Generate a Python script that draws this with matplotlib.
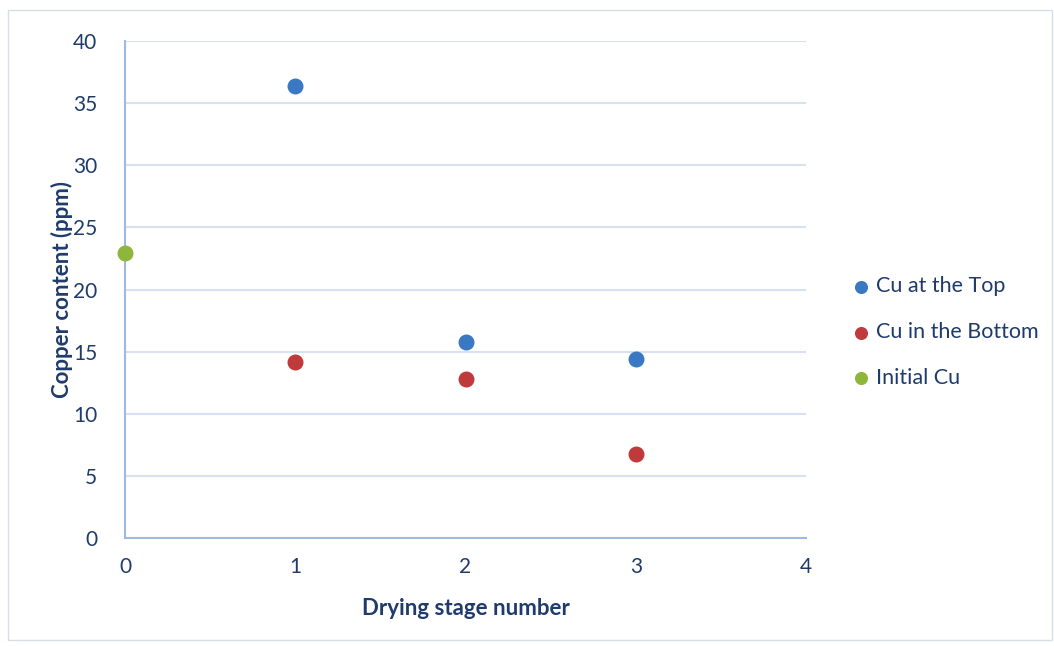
import matplotlib.pyplot as plt
from matplotlib.patches import Rectangle

stage_top = [1, 2, 3]
cu_top = [36.4, 15.8, 14.4]
stage_bottom = [1, 2, 3]
cu_bottom = [14.2, 12.8, 6.8]
stage_init = [0]
cu_init = [22.9]

txt = '#1F3B6B'
plt.rcParams['font.family'] = ['Lato', 'DejaVu Sans']

fig = plt.figure(figsize=(10.54, 6.46), dpi=100)
fig.patches.append(Rectangle((8/1054, 6/646), 1044/1054, 630/646, transform=fig.transFigure,
                             fill=False, edgecolor='#D9DEE6', lw=1))
ax = fig.add_axes([125/1054, 1-538/646, 681/1054, 497/646])

ax.scatter(stage_top, cu_top, s=110, color='#3A78C3', label='Cu at the Top', zorder=3)
ax.scatter(stage_bottom, cu_bottom, s=110, color='#C0393B', label='Cu in the Bottom', zorder=3)
ax.scatter(stage_init, cu_init, s=110, color='#8DB63A', label='Initial Cu', zorder=3, clip_on=False)

ax.set_xlim(0, 4)
ax.set_ylim(0, 40)
ax.set_xticks(range(0, 5))
ax.set_yticks(range(0, 41, 5))
ax.grid(axis='y', color='#D6E2F2', lw=1.5)
ax.set_axisbelow(True)
for s in ['top', 'right']:
    ax.spines[s].set_visible(False)
ax.spines['left'].set_color('#9DBAE2')
ax.spines['bottom'].set_color('#9DBAE2')
ax.spines['left'].set_linewidth(1.5)
ax.spines['bottom'].set_linewidth(1.5)
ax.tick_params(length=0, labelsize=15, colors=txt, pad=14)
ax.tick_params(axis='y', pad=20)

ax.set_xlabel('Drying stage number', fontsize=16, fontweight='bold', color=txt, labelpad=15)
ax.set_ylabel('Copper content (ppm)', fontsize=16, fontweight='bold', color=txt, labelpad=0)

leg = ax.legend(loc='center left', bbox_to_anchor=(1.055, 0.414), frameon=False, fontsize=15.5,
                handlelength=0.8, handletextpad=0.3, labelspacing=1.2, markerscale=0.8,
                borderaxespad=0)
for t in leg.get_texts():
    t.set_color(txt)

fig.savefig('out.png', dpi=100)
